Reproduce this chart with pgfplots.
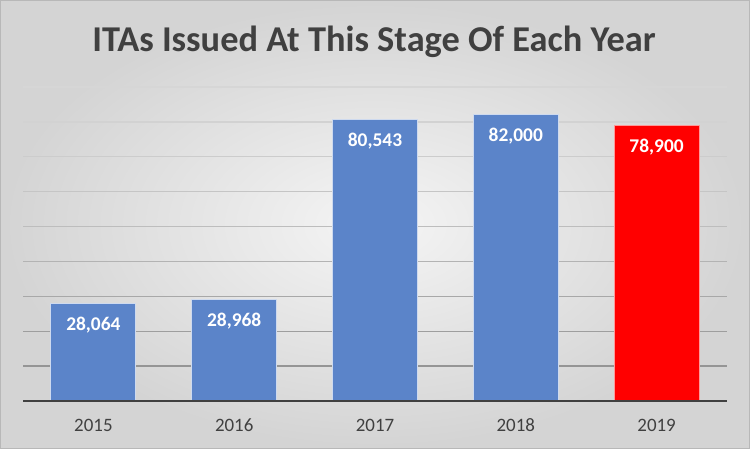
\documentclass[border=0pt]{standalone}
\usepackage{pgfplots}
\pgfplotsset{compat=1.18}
\usepackage{fontspec}
\setmainfont{Carlito}
\definecolor{barblue}{HTML}{5B84C9}
\definecolor{txt}{HTML}{404040}
\definecolor{ga}{HTML}{D6D6D6}
\definecolor{gb}{HTML}{D2D2D2}
\definecolor{gc}{HTML}{CCCCCC}
\definecolor{gd}{HTML}{C5C5C5}
\definecolor{ge}{HTML}{BDBDBD}
\definecolor{gf}{HTML}{B3B3B3}
\definecolor{gg}{HTML}{A8A8A8}
\definecolor{gh}{HTML}{9E9E9E}
\definecolor{gi}{HTML}{959595}
\begin{document}
\begin{tikzpicture}[x=1bp,y=1bp]
\useasboundingbox (0,0) rectangle (750,449);
\shade[inner color=white!96!black, outer color=white!83!black] (0,0) rectangle (750,449);
\draw[color=white!72!black, line width=1bp] (0.5,0.5) rectangle (749.5,448.5);
\begin{axis}[
  at={(23bp,48bp)}, anchor=south west,
  scale only axis, width=704bp, height=314bp,
  xmin=-0.5, xmax=4.5, ymin=0, ymax=90000,
  axis x line*=bottom, axis y line=none,
  axis line style={color=txt, line width=2.5bp},
  axis on top,
  xtick={0,1,2,3,4},
  xticklabels={2015,2016,2017,2018,2019},
  xtick style={draw=none}, major tick length=0pt,
  xticklabel style={font=\fontsize{19}{19}\selectfont, color=txt, anchor=base, yshift=-31bp},
  ytick=\empty,
  /pgf/number format/.cd, 1000 sep={,}, fixed, precision=0, assume math mode=true,
  /pgfplots/.cd,
  every node near coord/.append style={font=\fontsize{19.5}{19.5}\selectfont\bfseries, color=white, anchor=base, yshift=-27bp},
]
\addplot[no marks, color=gi, line width=1.3bp, forget plot] coordinates {(-0.5,10000) (4.5,10000)};
\addplot[no marks, color=gh, line width=1.3bp, forget plot] coordinates {(-0.5,20000) (4.5,20000)};
\addplot[no marks, color=gg, line width=1.3bp, forget plot] coordinates {(-0.5,30000) (4.5,30000)};
\addplot[no marks, color=gf, line width=1.3bp, forget plot] coordinates {(-0.5,40000) (4.5,40000)};
\addplot[no marks, color=ge, line width=1.3bp, forget plot] coordinates {(-0.5,50000) (4.5,50000)};
\addplot[no marks, color=gd, line width=1.3bp, forget plot] coordinates {(-0.5,60000) (4.5,60000)};
\addplot[no marks, color=gc, line width=1.3bp, forget plot] coordinates {(-0.5,70000) (4.5,70000)};
\addplot[no marks, color=gb, line width=1.3bp, forget plot] coordinates {(-0.5,80000) (4.5,80000)};
\addplot[no marks, color=ga, line width=1.3bp, forget plot] coordinates {(-0.5,90000) (4.5,90000)};
\addplot[ybar, bar width=85bp, bar shift=0pt, fill=barblue, draw=white!70!barblue, line width=1bp, nodes near coords]
  coordinates {(0,28064) (1,28968) (2,80543) (3,82000)};
\addplot[ybar, bar width=85bp, bar shift=0pt, fill=red, draw=white!60!red, line width=1bp, nodes near coords]
  coordinates {(4,78900)};
\end{axis}
\node[anchor=base, font=\fontsize{36.5}{36.5}\selectfont\bfseries, color=txt] at (374,397) {ITAs Issued At This Stage Of Each Year};
\end{tikzpicture}
\end{document}
